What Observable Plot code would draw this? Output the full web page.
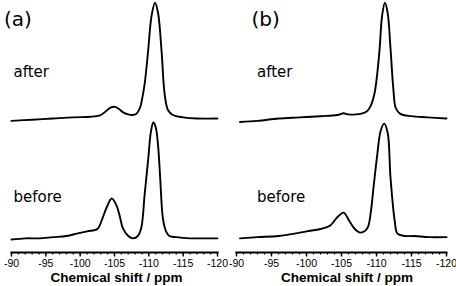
<!DOCTYPE html>
<html><head><meta charset="utf-8">
<script src="https://cdn.jsdelivr.net/npm/d3@7"></script>
<script src="https://cdn.jsdelivr.net/npm/@observablehq/plot@0.6"></script>
<style>
body{margin:0;background:#fff;}
#wrap{display:flex;width:456px;height:286px;}
svg{overflow:visible;}
</style></head><body><div id="wrap"></div>
<script>
// tick labels (ppm)
const majorTicks = [-90, -95, -100, -105, -110, -115, -120];
const minorTicks = [-90,-91,-92,-93,-94,-95,-96,-97,-98,-99,-100,-101,-102,-103,-104,-105,
  -106,-107,-108,-109,-110,-111,-112,-113,-114,-115,-116,-117,-118,-119,-120];
const panelLabels = ["(a)", "(b)"];
const seriesLabels = ["after", "before"];
const xTitle = "Chemical shift / ppm";

// spectra: [ppm, intensity] (before main peak ~ 100)
const aBefore = [[-90,0],[-92,1],[-94,1],[-96,2],[-98,3],[-99.5,5],[-101,7],[-102.5,9],[-103.3,19],
  [-103.9,28],[-104.6,35],[-105.3,29],[-105.8,19],[-106.2,10],[-107,3],[-107.7,1],[-108.4,3],
  [-108.9,10],[-109.4,39],[-109.9,68],[-110.3,92],[-110.65,100],[-111.0,96],[-111.35,80],
  [-111.65,53],[-112.05,18],[-112.5,7],[-113,3],[-114,2],[-116,1],[-118,1],[-120,1]];
const aAfter = [[-90,-2],[-93,-1],[-96,0],[-99,1],[-101.5,1.5],[-102.8,2.5],[-103.4,4.5],[-103.9,7],
  [-104.5,9.5],[-105.1,10],[-105.7,8],[-106.3,5],[-107,3.5],[-107.6,3],[-108.2,4],[-108.7,9],
  [-109.0,16],[-109.4,30],[-109.9,58],[-110.4,88],[-110.9,99],[-111.35,90],[-111.85,58],
  [-112.3,21],[-112.8,7],[-113.5,3],[-115,1],[-117,0],[-120,0]];
const bBefore = [[-90.5,1],[-93,2],[-96,3],[-98.3,5],[-100,7],[-102,9],[-103.4,12],[-104.4,19],
  [-105.3,23],[-106.1,16],[-106.9,9],[-107.6,6],[-108.3,7],[-108.8,11],[-109.2,24],[-109.6,46],
  [-110.1,72],[-110.6,93],[-111.1,99],[-111.6,91],[-112.0,53],[-112.6,16],[-113.0,5],[-114,3],
  [-115.4,3],[-117.5,2],[-120,2]];
const bAfter = [[-90.5,-3],[-93,-2],[-96,0],[-99,1],[-102,2],[-104.4,3],[-105.3,4.5],[-106,3.5],
  [-107.7,4],[-108.6,6],[-109.1,10],[-109.7,21],[-110.1,38],[-110.45,60],[-110.8,88],[-111.2,99],
  [-111.6,90],[-112.0,60],[-112.4,26],[-112.75,9],[-113.4,4],[-115,2],[-117.3,1],[-120,0]];

const afterOffset = 103.4;
const sans = "'Liberation Sans', Arial, sans-serif";
const dejavu = "'DejaVu Sans', Verdana, sans-serif";

function panel(label, after, before, o) {
  const lineOpts = {stroke: "black", strokeWidth: 1.9, curve: "catmull-rom"};
  return Plot.plot({
    width: 228, height: 286,
    marginLeft: o.ml, marginRight: o.mr, marginTop: 0, marginBottom: 34,
    x: {domain: [-90, -120]},
    y: {domain: [0, 100], range: [239, 122], axis: null},
    style: {background: "white", overflow: "visible", fontFamily: sans, color: "black"},
    marks: [
      Plot.line(before, {x: d => d[0], y: d => d[1], ...lineOpts}),
      Plot.line(after, {x: d => d[0], y: d => d[1] + afterOffset, ...lineOpts}),
      Plot.frame({anchor: "bottom", strokeWidth: 2, stroke: "black"}),
      Plot.axisX({ticks: minorTicks, tickSize: 2.5, tickFormat: () => "", label: null, strokeWidth: 1.2}),
      Plot.axisX({ticks: majorTicks, tickSize: 4.5, tickPadding: 3, tickFormat: d => String(d),
        label: null, fontSize: 10.5, strokeWidth: 1.4}),
      Plot.text([xTitle], {frameAnchor: "bottom", dy: 25.5, dx: o.tdx, fontWeight: "bold",
        fontSize: 13.5, lineAnchor: "middle", fontFamily: sans}),
      Plot.text([label], {frameAnchor: "top-left", dx: o.pdx, dy: 25.5, textAnchor: "start",
        lineAnchor: "bottom", fontSize: 20, fontFamily: dejavu}),
      Plot.text([seriesLabels[0]], {frameAnchor: "top-left", dx: o.sdx, dy: 76.5, textAnchor: "start",
        lineAnchor: "bottom", fontSize: 15, fontFamily: dejavu}),
      Plot.text([seriesLabels[1]], {frameAnchor: "top-left", dx: o.sdx, dy: 201.5, textAnchor: "start",
        lineAnchor: "bottom", fontSize: 15, fontFamily: dejavu})
    ]
  });
}

const wrap = document.getElementById("wrap");
wrap.appendChild(panel(panelLabels[0], aAfter, aBefore, {ml: 11, mr: 11, tdx: 2, pdx: -7.5, sdx: 2}));
wrap.appendChild(panel(panelLabels[1], bAfter, bBefore, {ml: 8, mr: 10, tdx: 5.5, pdx: 15, sdx: 20.5}));
</script></body></html>
